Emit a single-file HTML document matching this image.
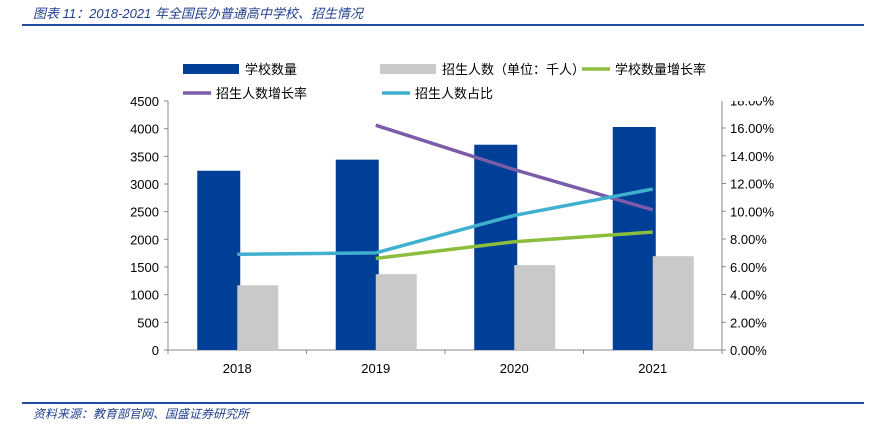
<!DOCTYPE html>
<html><head><meta charset="utf-8"><style>
body{margin:0;background:#fff;width:878px;height:428px;overflow:hidden;font-family:"Liberation Sans","Noto Sans CJK SC",sans-serif}
.t{position:absolute;left:33px;top:3px;font-size:13px;font-style:italic;color:#1f3f8f}
.s{position:absolute;left:33px;top:405px;font-size:12px;font-style:italic;color:#1f3f8f}
.ln{position:absolute;left:22px;width:842px;height:2px;background:#1f4fa0}
</style></head><body>
<div class="t">图表 11：2018-2021 年全国民办普通高中学校、招生情况</div>
<div class="ln" style="top:24px"></div>
<div class="ln" style="top:402px"></div>
<div class="s">资料来源：教育部官网、国盛证券研究所</div>
<svg id="c" width="878" height="428" style="position:absolute;left:0;top:0"></svg>
<script>
const categories=["2018","2019","2020","2021"];
const schools=[3240,3440,3710,4030];
const enroll=[1170,1370,1535,1695];
const schoolGrowth=[null,6.6,7.8,8.5];
const enrollGrowth=[null,16.2,13.0,10.1];
const enrollShare=[6.9,7.0,9.7,11.6];
const leftTicks=[0,500,1000,1500,2000,2500,3000,3500,4000,4500];
const rightTicks=[0,2,4,6,8,10,12,14,16,18];
const svg=document.getElementById('c');const NS='http://www.w3.org/2000/svg';
function mk(t,a,p){const e=document.createElementNS(NS,t);for(const k in a)e.setAttribute(k,a[k]);(p||svg).appendChild(e);return e;}
const X0=168,X1=722,Y0=350;
const yL=v=>Y0-v*(249/4500);
const yR=v=>Y0-v*(222/16);
const xc=i=>X0+(X1-X0)*(i+0.5)/categories.length;
const ax=mk('g',{});
mk('line',{x1:X0,y1:101,x2:X0,y2:Y0,stroke:'#888'},ax);
mk('line',{x1:X1,y1:101,x2:X1,y2:Y0,stroke:'#888'},ax);
mk('line',{x1:X0,y1:Y0,x2:X1,y2:Y0,stroke:'#888'},ax);
leftTicks.forEach(v=>{const y=yL(v);mk('line',{x1:X0-4,y1:y,x2:X0,y2:y,stroke:'#888'},ax);
const t=mk('text',{x:X0-9,y:y+5,'text-anchor':'end','font-size':13,fill:'#000'},ax);t.textContent=v;
});
rightTicks.forEach(v=>{const y=yR(v);mk('line',{x1:X1,y1:y,x2:X1+4,y2:y,stroke:'#888'},ax);
const t=mk('text',{x:X1+8,y:y+5,'font-size':13,fill:'#000'},ax);t.textContent=v.toFixed(2)+'%';
});
categories.forEach((c,i)=>{const x=X0+(X1-X0)*i/4;mk('line',{x1:x,y1:Y0,x2:x,y2:Y0+4,stroke:'#888'},ax);
const t=mk('text',{x:xc(i),y:373,'text-anchor':'middle','font-size':13},ax);t.textContent=c;
});
mk('line',{x1:X1,y1:Y0,x2:X1,y2:Y0+4,stroke:'#888'},ax);
categories.forEach((c,i)=>{
const b=mk('rect',{x:xc(i)-40,y:yL(schools[i]),width:43,height:Y0-yL(schools[i]),fill:'#003f98'});

const g=mk('rect',{x:xc(i),y:yL(enroll[i]),width:41,height:Y0-yL(enroll[i]),fill:'#c9c9c9'});
});
function line(arr,col,name){const pts=[];arr.forEach((v,i)=>{if(v!=null)pts.push(xc(i)+','+yR(v));});
const p=mk('polyline',{points:pts.join(' '),fill:'none',stroke:col,'stroke-width':3.5});
}
line(schoolGrowth,'#8cbd3f','line-school-growth');
line(enrollGrowth,'#7b5ca8','line-enroll-growth');
line(enrollShare,'#3fb0cf','line-enroll-share');
const lg=mk('g',{});
mk('rect',{x:172,y:55,width:590,height:46,fill:'#fff'},lg);
function li(x,y,kind,col,txt,n){if(kind==='r')mk('rect',{x:x,y:y-5,width:56,height:10,fill:col},lg);
else mk('line',{x1:x,y1:y,x2:x+28,y2:y,stroke:col,'stroke-width':3.5},lg);
const t=mk('text',{x:x+(kind==='r'?62:33),y:y+5,'font-size':13},lg);t.textContent=txt;
}
li(183,69,'r','#003f98','学校数量','legend-schools');
li(380,69,'r','#c9c9c9','招生人数（单位：千人）','legend-enroll');
li(582,69,'l','#8cbd3f','学校数量增长率','legend-school-growth');
li(183,93,'l','#7b5ca8','招生人数增长率','legend-enroll-growth');
li(382,93,'l','#3fb0cf','招生人数占比','legend-enroll-share');
</script>
</body></html>
